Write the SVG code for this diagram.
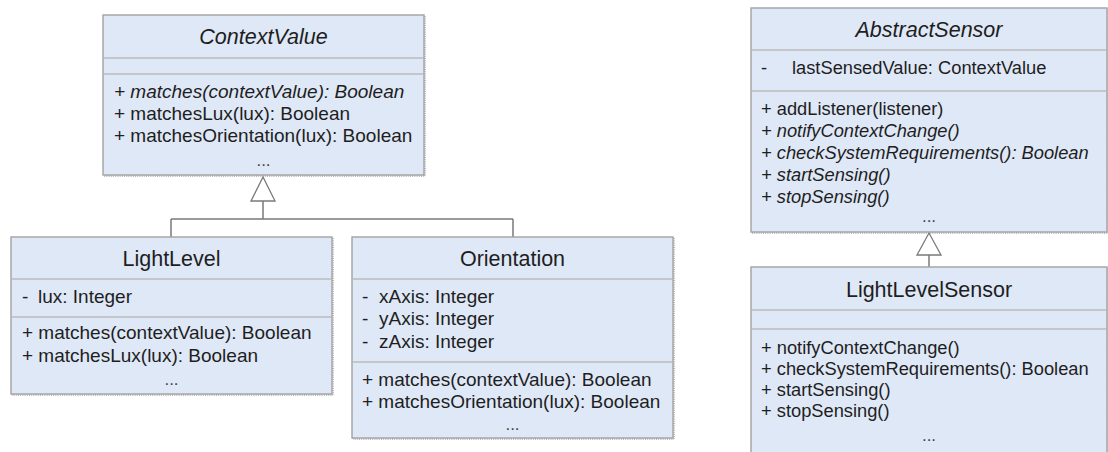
<svg xmlns="http://www.w3.org/2000/svg" width="1108" height="452" viewBox="0 0 1108 452">
<style>
.box{fill:#dfe8f7;stroke:#a2a2a2;stroke-width:1.4}
.shadow{fill:none;stroke:#6e6e6e;stroke-width:1;stroke-dasharray:1 1.2}
.sep{stroke:#c4c6c9;stroke-width:2}
.t{font-family:"Liberation Sans",Arial,sans-serif;fill:#1e1e1e}
.title{font-size:21.5px;text-anchor:middle}
.m{font-size:19px}
.r{font-size:18.3px}
.i{font-style:italic}
.dots{font-size:17px;text-anchor:middle;fill:#444}
.conn{fill:none;stroke:#7a7a7a;stroke-width:1.5}
.tri{fill:#ffffff;stroke:#7a7a7a;stroke-width:1.3}
</style>
<rect width="1108" height="452" fill="#ffffff"/>
<g id="connectors">
<path class="conn" d="M263,201 V219 M171,219 H513 M171,219 V237 M513,219 V237"/>
<polygon class="tri" points="263,177 251,201 275,201"/>
<path class="conn" d="M929,255 V267"/>
<polygon class="tri" points="929,233 917,255 941,255"/>
</g>
<g id="ContextValue">
<rect class="shadow" x="104" y="16" width="321" height="160"/>
<rect class="box" x="103" y="15" width="321" height="160"/>
<line class="sep" x1="104" y1="58" x2="423" y2="58"/>
<line class="sep" x1="104" y1="74" x2="423" y2="74"/>
<text class="t title i" x="263.5" y="44">ContextValue</text>
<text class="t m i" x="114" y="98">+ matches(contextValue): Boolean</text>
<text class="t m" x="114" y="120">+ matchesLux(lux): Boolean</text>
<text class="t m" x="114" y="142">+ matchesOrientation(lux): Boolean</text>
<text class="t dots" x="263.5" y="166">...</text>
</g>
<g id="LightLevel">
<rect class="shadow" x="12" y="238" width="321" height="157"/>
<rect class="box" x="11" y="237" width="321" height="157"/>
<line class="sep" x1="12" y1="279" x2="331" y2="279"/>
<line class="sep" x1="12" y1="317" x2="331" y2="317"/>
<text class="t title" x="171.5" y="266">LightLevel</text>
<text class="t m" x="22" y="303">-</text>
<text class="t m" x="38" y="303">lux: Integer</text>
<text class="t m" x="22" y="339">+ matches(contextValue): Boolean</text>
<text class="t m" x="22" y="362">+ matchesLux(lux): Boolean</text>
<text class="t dots" x="171.5" y="385">...</text>
</g>
<g id="Orientation">
<rect class="shadow" x="353" y="238" width="321" height="201"/>
<rect class="box" x="352" y="237" width="321" height="201"/>
<line class="sep" x1="353" y1="279" x2="672" y2="279"/>
<line class="sep" x1="353" y1="362" x2="672" y2="362"/>
<text class="t title" x="512.5" y="266">Orientation</text>
<text class="t m" x="362" y="303">-</text>
<text class="t m" x="379" y="303">xAxis: Integer</text>
<text class="t m" x="362" y="325">-</text>
<text class="t m" x="379" y="325">yAxis: Integer</text>
<text class="t m" x="362" y="348">-</text>
<text class="t m" x="379" y="348">zAxis: Integer</text>
<text class="t m" x="362" y="386">+ matches(contextValue): Boolean</text>
<text class="t m" x="362" y="408">+ matchesOrientation(lux): Boolean</text>
<text class="t dots" x="512.5" y="430">...</text>
</g>
<g id="AbstractSensor">
<rect class="shadow" x="752" y="9" width="356" height="224"/>
<rect class="box" x="751" y="8" width="356" height="224"/>
<line class="sep" x1="752" y1="50" x2="1106" y2="50"/>
<line class="sep" x1="752" y1="91" x2="1106" y2="91"/>
<text class="t title i" x="929" y="37">AbstractSensor</text>
<text class="t r" x="761" y="74">-</text>
<text class="t r" x="792" y="74">lastSensedValue: ContextValue</text>
<text class="t r" x="761" y="115">+ addListener(listener)</text>
<text class="t r i" x="761" y="137">+ notifyContextChange()</text>
<text class="t r i" x="761" y="159">+ checkSystemRequirements(): Boolean</text>
<text class="t r i" x="761" y="181">+ startSensing()</text>
<text class="t r i" x="761" y="203">+ stopSensing()</text>
<text class="t dots" x="929" y="222">...</text>
</g>
<g id="LightLevelSensor">
<rect class="shadow" x="752" y="268" width="356" height="200"/>
<rect class="box" x="751" y="267" width="356" height="200"/>
<line class="sep" x1="752" y1="310" x2="1106" y2="310"/>
<line class="sep" x1="752" y1="329" x2="1106" y2="329"/>
<text class="t title" x="929" y="297">LightLevelSensor</text>
<text class="t r" x="761" y="354">+ notifyContextChange()</text>
<text class="t r" x="761" y="375">+ checkSystemRequirements(): Boolean</text>
<text class="t r" x="761" y="396">+ startSensing()</text>
<text class="t r" x="761" y="417">+ stopSensing()</text>
<text class="t dots" x="929" y="441">...</text>
</g>
</svg>
